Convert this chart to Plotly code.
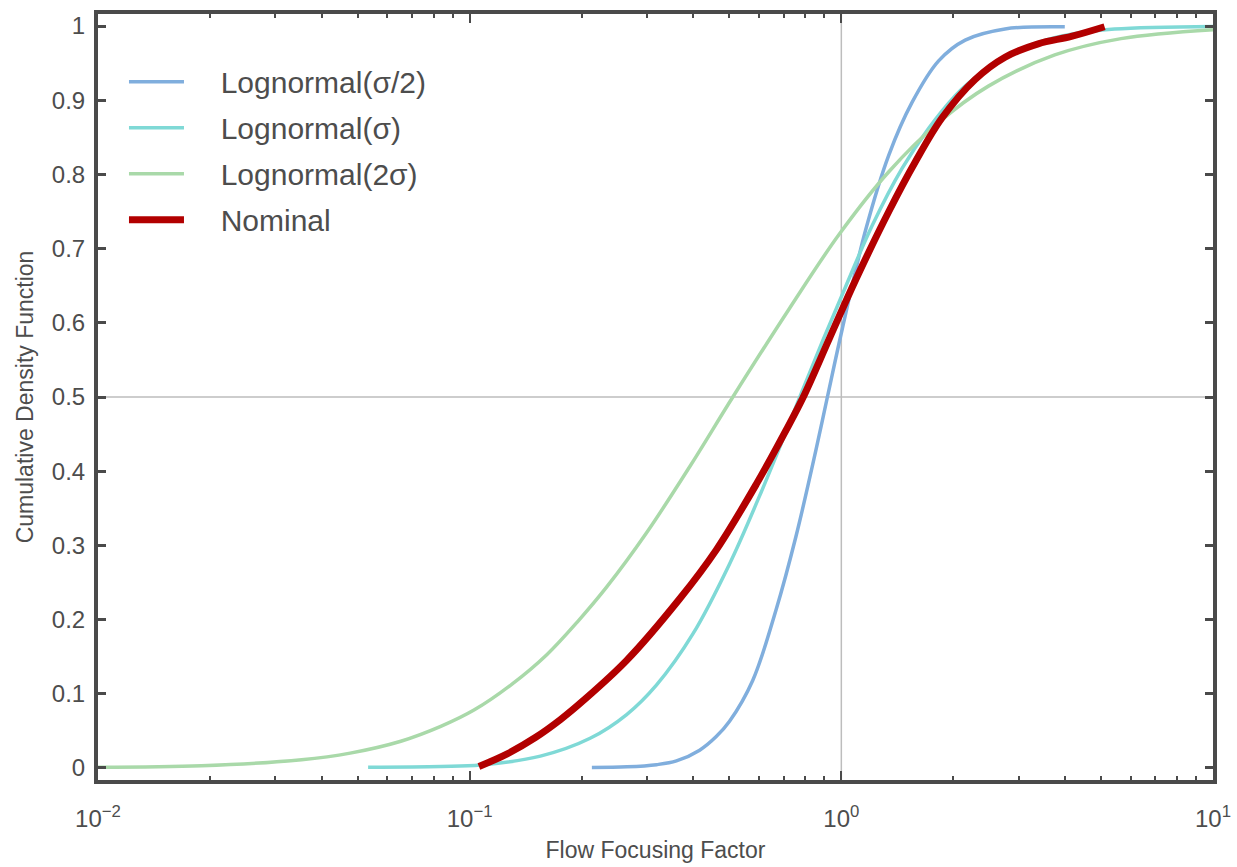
import plotly.graph_objects as go

# ---- data ----
half_sigma_x = [0.2132, 0.265, 0.3184, 0.36, 0.4157, 0.46, 0.5003, 0.5775, 0.6672, 0.7549, 0.854,
                0.9173, 1.006, 1.1624, 1.342, 1.5497, 1.827, 2.154, 2.757, 3.992]
half_sigma_y = [0.0005, 0.0015, 0.0045, 0.0095, 0.024, 0.042, 0.063, 0.118, 0.213, 0.312, 0.428,
                0.5, 0.592, 0.725, 0.826, 0.897, 0.953, 0.981, 0.996, 0.999]

sigma_x = [0.0533, 0.0836, 0.107, 0.155, 0.2109, 0.2645, 0.3184, 0.399, 0.5003, 0.6018,
           0.7096, 0.786, 0.8894, 1.0275, 1.2108, 1.457, 1.7178, 2.0254, 2.1982,
           2.757, 3.386, 4.157, 5.434, 10.0]
sigma_y = [0.001, 0.002, 0.004, 0.016, 0.040, 0.072, 0.112, 0.181, 0.275, 0.366,
           0.453, 0.509, 0.575, 0.649, 0.731, 0.808, 0.862, 0.906, 0.923,
           0.959, 0.978, 0.989, 0.996, 0.9995]

two_sigma_x = [0.01, 0.019, 0.0353, 0.0477, 0.0653, 0.0836, 0.1027, 0.13, 0.1615, 0.195,
               0.2338, 0.2992, 0.3908, 0.5106, 0.7244, 0.9858, 1.342, 1.827, 2.487,
               3.752, 5.657, 10.0]
two_sigma_y = [0.001, 0.003, 0.011, 0.02, 0.036, 0.056, 0.078, 0.113, 0.153, 0.197,
               0.244, 0.317, 0.406, 0.5, 0.619, 0.719, 0.8036, 0.870, 0.919,
               0.961, 0.983, 0.995]

nominal_x = [0.1059, 0.1262, 0.1502, 0.1753, 0.2024, 0.2645, 0.3674, 0.4609, 0.5898, 0.7096,
             0.79, 0.927, 1.093, 1.342, 1.582, 1.865, 2.291, 2.757, 3.386, 4.157, 5.108]
nominal_y = [0.002, 0.019, 0.041, 0.065, 0.091, 0.145, 0.228, 0.294, 0.382, 0.455,
             0.5, 0.578, 0.658, 0.750, 0.817, 0.876, 0.928, 0.958, 0.976, 0.986, 0.999]

series_names = ["Lognormal(σ/2)", "Lognormal(σ)", "Lognormal(2σ)", "Nominal"]
series_colors = ["#80AEDD", "#7FD9D6", "#A9D9A9", "#B20000"]
series_widths = [3.5, 3.5, 3.5, 7]

x_tick_vals = [0.01, 0.1, 1, 10]
x_tick_text = ["10<sup>−2</sup>", "10<sup>−1</sup>", "10<sup>0</sup>", "10<sup>1</sup>"]
x_minor_vals = [m * d for d in (0.01, 0.1, 1) for m in range(2, 10)]
y_tick_vals = [i / 10 for i in range(11)]
y_tick_text = ["0", "0.1", "0.2", "0.3", "0.4", "0.5", "0.6", "0.7", "0.8", "0.9", "1"]

FRAME = "#4a4a4a"
TEXT = "#4d4d4d"
FONT = "Liberation Sans, Arial, sans-serif"
PAD = "\u2002\u00a0\u00a0"

fig = go.Figure()
all_x = [half_sigma_x, sigma_x, two_sigma_x, nominal_x]
all_y = [half_sigma_y, sigma_y, two_sigma_y, nominal_y]
for i, name in enumerate(series_names):
    fig.add_trace(go.Scatter(
        x=all_x[i], y=all_y[i], mode="lines", name=PAD + name, legendgroup=name,
        line=dict(color=series_colors[i], width=series_widths[i], shape="spline"),
    ))

# reference lines
fig.add_shape(type="line", xref="x", yref="y domain", x0=1, x1=1, y0=0, y1=1,
              line=dict(color="#bdbdbd", width=1.5), layer="below")
fig.add_shape(type="line", xref="x domain", yref="y", x0=0, x1=1, y0=0.5, y1=0.5,
              line=dict(color="#bdbdbd", width=1.5), layer="below")

fig.update_layout(
    width=1237, height=867,
    margin=dict(l=98, r=24, t=14, b=87, autoexpand=False),
    paper_bgcolor="white", plot_bgcolor="white",
    font=dict(family=FONT, color=TEXT, size=24),
    showlegend=True,
    legend=dict(x=0.0233, y=0.9456, xanchor="left", yanchor="top",
                font=dict(size=30, color=TEXT, family=FONT),
                bgcolor="rgba(0,0,0,0)", borderwidth=0,
                itemwidth=55, tracegroupgap=4),
    xaxis=dict(
        type="log", range=[-2, 1], automargin=False,
        tickmode="array", tickvals=x_tick_vals, ticktext=x_tick_text,
        ticks="inside", ticklen=9, tickwidth=2, tickcolor=FRAME,
        showline=True, linewidth=4, linecolor=FRAME, mirror="ticks",
        showgrid=False, zeroline=False, ticklabelstandoff=14,
        tickfont=dict(size=24, color=TEXT),
        minor=dict(tickmode="array", tickvals=x_minor_vals, ticks="inside",
                   ticklen=4, tickwidth=2, tickcolor=FRAME, showgrid=False),
        title=dict(text="Flow Focusing Factor", font=dict(size=23, color=TEXT), standoff=12),
    ),
    yaxis=dict(
        range=[-0.0162, 1.0162], automargin=False,
        tickmode="array", tickvals=y_tick_vals, ticktext=y_tick_text,
        ticks="inside", ticklen=8, tickwidth=3, tickcolor=FRAME,
        showline=True, linewidth=4, linecolor=FRAME, mirror="ticks",
        showgrid=False, zeroline=False, ticklabelstandoff=4,
        tickfont=dict(size=24, color=TEXT),
        title=dict(text="Cumulative Density Function", font=dict(size=23, color=TEXT), standoff=13),
    ),
)

fig.write_html("out.html", config={"displayModeBar": False},
               post_script="document.body.style.margin='0';")
